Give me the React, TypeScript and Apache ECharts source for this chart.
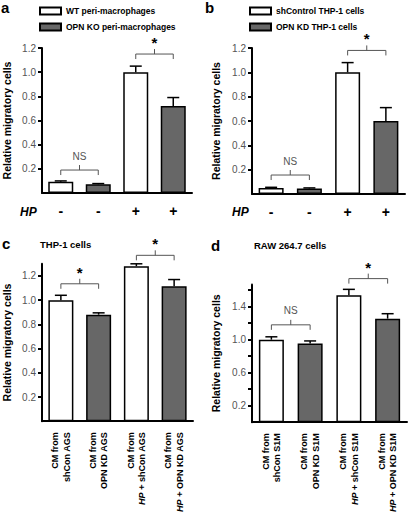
import React, { useEffect, useRef } from "react";
import * as echarts from "echarts";

const FONT = "Liberation Sans, Arial, sans-serif";

// Panel a
const aCategories = ["-", "-", "+", "+"];
const aValues = [0.093, 0.072, 1.0, 0.72];
const aErrors = [0.1, 0.078, 1.05, 0.79];
const aLegend = ["WT peri-macrophages", "OPN KO peri-macrophages"];
// Panel b
const bCategories = ["-", "-", "+", "+"];
const bValues = [0.05, 0.045, 1.0, 0.6];
const bErrors = [0.055, 0.05, 1.08, 0.71];
const bLegend = ["shControl THP-1 cells", "OPN KD THP-1 cells"];
// Panel c
const cCategories = [
  "CM from\nshCon AGS",
  "CM from\nOPN KD AGS",
  "CM from\n{i|HP} + shCon AGS",
  "CM from\n{i|HP} + OPN KD AGS",
];
const cValues = [1.0, 0.88, 1.28, 1.115];
const cErrors = [1.04, 0.895, 1.3, 1.17];
// Panel d
const dCategories = [
  "CM from\nshCon S1M",
  "CM from\nOPN KD S1M",
  "CM from\n{i|HP} + shCon S1M",
  "CM from\n{i|HP} + OPN KD S1M",
];
const dValues = [1.0, 0.955, 1.54, 1.255];
const dErrors = [1.035, 0.985, 1.61, 1.315];

// Significance brackets: [from category, to category, level]
const aBrackets = [[0, 1, 0.19], [2, 3, 1.15]];
const aBracketLabels = ["NS", "*"];
const bBrackets = [[0, 1, 0.156], [2, 3, 1.18]];
const bBracketLabels = ["NS", "*"];
const cBrackets = [[0, 1, 1.135], [2, 3, 1.37]];
const cBracketLabels = ["*", "*"];
const dBrackets = [[0, 1, 1.18], [2, 3, 1.74]];
const dBracketLabels = ["NS", "*"];

const abTicks = [0.2, 0.4, 0.6, 0.8, 1.0, 1.2];
const cTicks = [0.2, 0.4, 0.6, 0.8, 1.0, 1.2];
const dTicks = [0.2, 0.4, 0.6, 0.8, 1.0, 1.2, 1.4, 1.6];
const dLabels = [0.2, 0.6, 1.0, 1.4];

const GREY = "#676767";

export default function App() {
  const ref = useRef<HTMLDivElement>(null);
  useEffect(() => {
    if (!ref.current) return;
    const chart = echarts.init(ref.current, null, { renderer: "svg" });

    const grids = [
      { left: 41, top: 48, width: 151, height: 145 },
      { left: 252, top: 48, width: 153, height: 146 },
      { left: 41, top: 263.8, width: 152, height: 161.2 },
      { left: 252, top: 284.4, width: 155, height: 143.6 },
    ];

    const yName = "Relative migratory cells";
    const mkY = (idx: number, max: number, ticks: number[], labels: number[], gap: number) => ({
      type: "value",
      gridIndex: idx,
      min: 0,
      max,
      name: yName,
      nameLocation: "middle",
      nameGap: gap,
      nameTextStyle: { fontFamily: FONT, fontWeight: "bold", fontSize: 10.5, color: "#000" },
      axisLine: { show: true, lineStyle: { color: "#000", width: 2 } },
      axisTick: { show: true, length: 4, lineStyle: { color: "#000", width: 2 }, customValues: ticks },
      axisLabel: {
        fontFamily: FONT,
        fontSize: 10,
        color: "#555",
        margin: 6,
        customValues: labels,
        formatter: (v: number) => v.toFixed(1),
      },
      splitLine: { show: false },
    });

    const mkXab = (idx: number, cats: string[]) => ({
      type: "category",
      gridIndex: idx,
      data: cats,
      axisLine: { lineStyle: { color: "#000", width: 2 } },
      axisTick: { alignWithLabel: true, length: 5, lineStyle: { color: "#000", width: 1.5 } },
      axisLabel: { fontFamily: FONT, fontWeight: "bold", fontSize: 14, color: "#000", margin: 11 },
    });

    const mkXcd = (idx: number, cats: string[]) => ({
      type: "category",
      gridIndex: idx,
      data: cats,
      axisLine: { lineStyle: { color: "#000", width: 2 } },
      axisTick: { alignWithLabel: true, length: 5, lineStyle: { color: "#000", width: 1.5 } },
      axisLabel: {
        rotate: 90,
        interval: 0,
        fontFamily: FONT,
        fontWeight: "bold",
        fontSize: 9,
        lineHeight: 11.5,
        color: "#000",
        margin: 11,
        rich: {
          i: { fontFamily: FONT, fontWeight: "bold", fontStyle: "italic", fontSize: 9, lineHeight: 11.5, color: "#000" },
        },
      },
    });

    const panels = [
      { values: aValues, errors: aErrors, brackets: aBrackets, blabels: aBracketLabels, names: aLegend },
      { values: bValues, errors: bErrors, brackets: bBrackets, blabels: bBracketLabels, names: bLegend },
      { values: cValues, errors: cErrors, brackets: cBrackets, blabels: cBracketLabels, names: ["c white", "c grey"] },
      { values: dValues, errors: dErrors, brackets: dBrackets, blabels: dBracketLabels, names: ["d white", "d grey"] },
    ];

    const series: any[] = [];
    panels.forEach((p, idx) => {
      series.push({
        type: "bar",
        name: p.names[0],
        xAxisIndex: idx,
        yAxisIndex: idx,
        barWidth: 25,
        barGap: "-100%",
        data: p.values.map((v, i) => (i % 2 === 0 ? v : "-")),
        itemStyle: { color: "#fff", borderColor: "#000", borderWidth: 1.5 },
      });
      series.push({
        type: "bar",
        name: p.names[1],
        xAxisIndex: idx,
        yAxisIndex: idx,
        barWidth: 25,
        barGap: "-100%",
        data: p.values.map((v, i) => (i % 2 === 1 ? v : "-")),
        itemStyle: { color: GREY, borderColor: "#000", borderWidth: 1.5 },
      });
      series.push({
        type: "custom",
        xAxisIndex: idx,
        yAxisIndex: idx,
        z: 5,
        data: p.values.map((v, i) => [i, v, p.errors[i]]),
        renderItem: (_params: any, api: any) => {
          const base = api.coord([api.value(0), api.value(1)]);
          const top = api.coord([api.value(0), api.value(2)]);
          const st = { stroke: "#000", lineWidth: 1.5, fill: "none" };
          return {
            type: "group",
            children: [
              { type: "line", shape: { x1: base[0], y1: base[1], x2: top[0], y2: top[1] }, style: st },
              { type: "line", shape: { x1: top[0] - 6, y1: top[1], x2: top[0] + 6, y2: top[1] }, style: st },
            ],
          };
        },
      });
      series.push({
        type: "custom",
        xAxisIndex: idx,
        yAxisIndex: idx,
        z: 5,
        data: p.brackets,
        renderItem: (params: any, api: any) => {
          const l = api.coord([api.value(0), api.value(2)]);
          const r = api.coord([api.value(1), api.value(2)]);
          const y = l[1];
          const xm = (l[0] + r[0]) / 2;
          const label = p.blabels[params.dataIndex];
          const st = { stroke: "#555", lineWidth: 1, fill: "none" };
          const isStar = label === "*";
          return {
            type: "group",
            children: [
              {
                type: "polyline",
                shape: { points: [[l[0], y + 5], [l[0], y], [r[0], y], [r[0], y + 5]] },
                style: st,
              },
              { type: "line", shape: { x1: xm, y1: y, x2: xm, y2: y - 5 }, style: st },
              {
                type: "text",
                x: xm,
                y: isStar ? y - 4 : y - 9,
                style: {
                  text: label,
                  align: "center",
                  verticalAlign: "bottom",
                  fontFamily: FONT,
                  fontSize: isStar ? 15 : 10,
                  fontWeight: isStar ? "bold" : "normal",
                  fill: isStar ? "#000" : "#555",
                },
              },
            ],
          };
        },
      });
    });

    const legendCommon = {
      orient: "vertical",
      top: 1,
      itemWidth: 21,
      itemHeight: 7,
      itemGap: 6,
      icon: "rect",
      selectedMode: false,
      textStyle: { fontFamily: FONT, fontWeight: "bold", fontSize: 8.5, lineHeight: 10, color: "#000" },
    };

    const txt = (x: number, y: number, text: string, size: number, extra: any = {}) => ({
      type: "text",
      x,
      y,
      style: {
        text,
        fontFamily: FONT,
        fontSize: size,
        fontWeight: "bold",
        fill: "#000",
        verticalAlign: "middle",
        ...extra,
      },
    });

    chart.setOption({
      animation: false,
      backgroundColor: "#fff",
      grid: grids,
      xAxis: [mkXab(0, aCategories), mkXab(1, bCategories), mkXcd(2, cCategories), mkXcd(3, dCategories)],
      yAxis: [
        mkY(0, 1.2, abTicks, abTicks, 30),
        mkY(1, 1.2, abTicks, abTicks, 31),
        mkY(2, 1.3, cTicks, cTicks, 30),
        mkY(3, 1.67, dTicks, dLabels, 31),
      ],
      legend: [
        { ...legendCommon, left: 34, data: aLegend },
        { ...legendCommon, left: 244, data: bLegend },
      ],
      series,
      graphic: [
        txt(1, 7, "a", 15),
        txt(205, 7, "b", 15),
        txt(2, 243, "c", 15),
        txt(211, 245, "d", 15),
        txt(40, 244, "THP-1 cells", 9.5),
        txt(254, 245, "RAW 264.7 cells", 9.5),
        txt(20, 212, "HP", 12, { fontStyle: "italic" }),
        txt(232, 212, "HP", 12, { fontStyle: "italic" }),
      ],
    });
    return () => chart.dispose();
  }, []);
  return (
    <div
      ref={ref}
      style={{ position: "fixed", left: 0, top: 0, width: 409, height: 515, background: "#fff" }}
    />
  );
}
